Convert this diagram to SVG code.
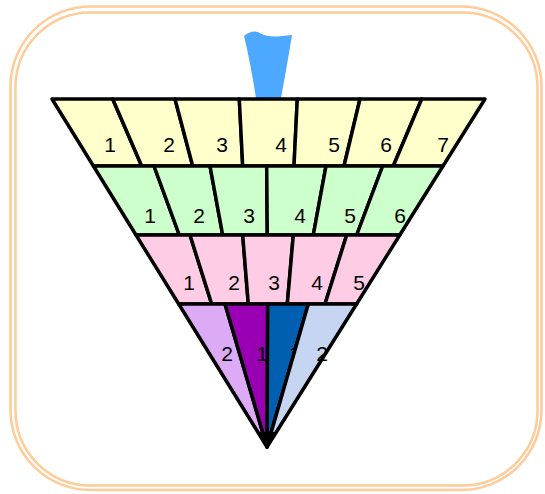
<svg xmlns="http://www.w3.org/2000/svg" width="545" height="494" viewBox="0 0 545 494">
<style>
.frame{fill:none;stroke:#FFCC99;stroke-width:2.5}
.cell{stroke:#000;stroke-width:3.5;stroke-linejoin:round}
.y{fill:#FFFFCC}.g{fill:#CCFFCC}.p{fill:#FFCCE6}
.lv{fill:#DDAAF5}.pu{fill:#9900B3}.bl{fill:#005FB0}.lb{fill:#C6D6F2}
text{font-family:"Liberation Sans",Arial,sans-serif;font-size:21px;fill:#000;text-anchor:middle}
</style>
<g id="frame">
<rect class="frame" x="10.5" y="6.5" width="531" height="483.5" rx="80"/>
<rect class="frame" x="15.5" y="12.5" width="522" height="473" rx="75"/>
</g>
<g id="drop">
<path d="M244,36 Q251,30 258,32 Q265,37 278,36.5 L292,35 Q288,60 281,98 L256,98 Q250,60 244,36 Z" fill="#4DA8FF"/>
</g>
<g id="row7">
<g id="y1"><polygon class="cell y" points="52,99 112.7,99 141.7,166 93.4,166"/><text x="110" y="152">1</text></g>
<g id="y2"><polygon class="cell y" points="112.7,99 175,99 192.7,166 141.7,166"/><text x="169" y="152">2</text></g>
<g id="y3"><polygon class="cell y" points="175,99 239.3,99 242.7,166 192.7,166"/><text x="222" y="152">3</text></g>
<g id="y4"><polygon class="cell y" points="239.3,99 297.3,99 294,166 242.7,166"/><text x="281" y="152">4</text></g>
<g id="y5"><polygon class="cell y" points="297.3,99 360,99 344,166 294,166"/><text x="334" y="152">5</text></g>
<g id="y6"><polygon class="cell y" points="360,99 421.7,99 393.3,166 344,166"/><text x="386" y="152">6</text></g>
<g id="y7"><polygon class="cell y" points="421.7,99 485,99 443,166 393.3,166"/><text x="443" y="152">7</text></g>
</g>
<g id="row6">
<g id="g1"><polygon class="cell g" points="93.4,166 154,166 179.3,235 136,235"/><text x="150" y="222.5">1</text></g>
<g id="g2"><polygon class="cell g" points="154,166 210,166 222.7,235 179.3,235"/><text x="199" y="222.5">2</text></g>
<g id="g3"><polygon class="cell g" points="210,166 266.7,166 267.3,235 222.7,235"/><text x="249" y="222.5">3</text></g>
<g id="g4"><polygon class="cell g" points="266.7,166 326,166 313.3,235 267.3,235"/><text x="300" y="222.5">4</text></g>
<g id="g5"><polygon class="cell g" points="326,166 382.7,166 356.7,235 313.3,235"/><text x="350" y="222.5">5</text></g>
<g id="g6"><polygon class="cell g" points="382.7,166 443,166 399.8,235 356.7,235"/><text x="400" y="222.5">6</text></g>
</g>
<g id="row5">
<g id="p1"><polygon class="cell p" points="136,235 190,235 211.7,304 178.7,304"/><text x="189" y="289.5">1</text></g>
<g id="p2"><polygon class="cell p" points="190,235 242.7,235 248.3,304 211.7,304"/><text x="234" y="289.5">2</text></g>
<g id="p3"><polygon class="cell p" points="242.7,235 293.3,235 287.3,304 248.3,304"/><text x="274" y="289.5">3</text></g>
<g id="p4"><polygon class="cell p" points="293.3,235 346.7,235 325,304 287.3,304"/><text x="317" y="289.5">4</text></g>
<g id="p5"><polygon class="cell p" points="346.7,235 399.8,235 356.6,304 325,304"/><text x="359" y="289.5">5</text></g>
</g>
<g id="row4">
<g id="b1"><polygon class="cell lv" points="178.7,304 225,304 267,447"/><text x="227" y="360.5">2</text></g>
<g id="b2"><polygon class="cell pu" points="225,304 267.7,304 267,447"/><text x="262" y="360.5">1</text></g>
<g id="b3"><polygon class="cell bl" points="267.7,304 308.3,304 267,447"/><text x="295" y="360.5">1</text></g>
<g id="b4"><polygon class="cell lb" points="308.3,304 356.6,304 267,447"/><text x="322" y="360.5">2</text></g>
<polygon points="259,432 275,432 267,449" fill="#000"/>
</g>
</svg>
